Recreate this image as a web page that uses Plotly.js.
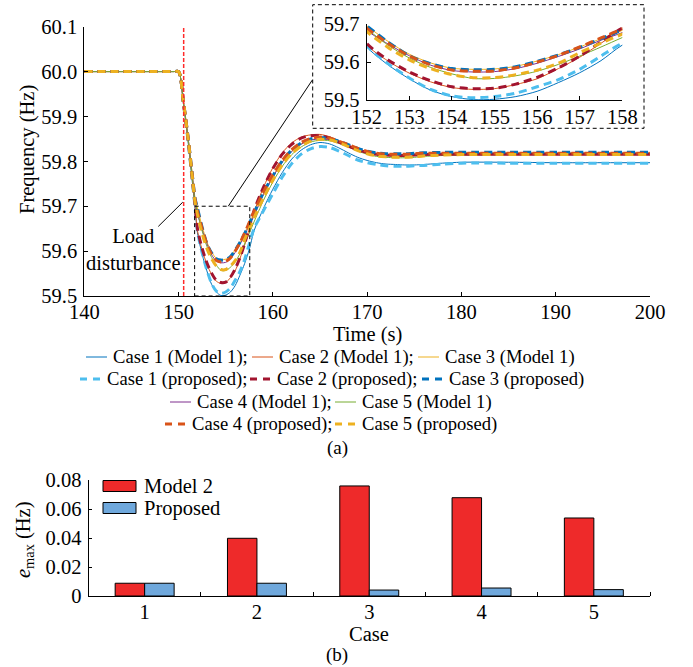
<!DOCTYPE html>
<html><head><meta charset="utf-8">
<script src="https://cdn.plot.ly/plotly-3.0.1.min.js"></script>
<style>html,body{margin:0;padding:0;background:#fff}</style>
</head><body><div id="chart" style="width:693px;height:667px"></div>
<script>
// ---------- data ----------
const time = [140, 149.5, 150, 150.5, 151, 151.5, 151.75, 152, 152.5, 153, 153.5, 154, 154.5, 155, 155.5, 156, 156.5, 157, 157.5, 158, 159, 160, 161, 162, 163, 164, 165, 166, 167, 168, 169, 170, 171, 172, 173, 174, 175, 176, 178, 180, 185, 190, 195, 200];

const case1Model1 = [60.000, 60.000, 60.000, 59.930, 59.845, 59.745, 59.694, 59.641, 59.593, 59.556, 59.526, 59.509, 59.501, 59.502, 59.509, 59.523, 59.546, 59.572, 59.604, 59.645, 59.695, 59.738, 59.775, 59.805, 59.825, 59.837, 59.842, 59.839, 59.830, 59.819, 59.809, 59.802, 59.797, 59.794, 59.793, 59.792, 59.792, 59.793, 59.796, 59.798, 59.798, 59.797, 59.797, 59.797];
const case1Proposed = [60.000, 60.000, 60.000, 59.930, 59.846, 59.747, 59.697, 59.644, 59.596, 59.558, 59.528, 59.511, 59.506, 59.509, 59.518, 59.535, 59.554, 59.581, 59.616, 59.650, 59.690, 59.728, 59.765, 59.795, 59.816, 59.828, 59.833, 59.831, 59.823, 59.813, 59.803, 59.797, 59.793, 59.790, 59.789, 59.789, 59.790, 59.791, 59.794, 59.796, 59.796, 59.796, 59.796, 59.796];
const case2Model1 = [60.000, 60.000, 60.000, 59.932, 59.850, 59.750, 59.700, 59.646, 59.603, 59.571, 59.548, 59.533, 59.528, 59.530, 59.541, 59.556, 59.583, 59.613, 59.650, 59.686, 59.742, 59.786, 59.819, 59.841, 59.854, 59.859, 59.860, 59.855, 59.846, 59.836, 59.827, 59.821, 59.817, 59.815, 59.814, 59.814, 59.815, 59.816, 59.817, 59.817, 59.817, 59.817, 59.817, 59.817];
const case2Proposed = [60.000, 60.000, 60.000, 59.932, 59.850, 59.751, 59.702, 59.650, 59.606, 59.574, 59.551, 59.535, 59.530, 59.531, 59.542, 59.560, 59.585, 59.616, 59.653, 59.690, 59.742, 59.784, 59.816, 59.838, 59.852, 59.857, 59.857, 59.852, 59.843, 59.834, 59.826, 59.820, 59.816, 59.814, 59.813, 59.813, 59.814, 59.815, 59.816, 59.816, 59.816, 59.816, 59.816, 59.816];
const case3Model1 = [60.000, 60.000, 60.000, 59.935, 59.855, 59.762, 59.718, 59.696, 59.655, 59.621, 59.598, 59.584, 59.581, 59.582, 59.589, 59.603, 59.620, 59.640, 59.662, 59.684, 59.728, 59.766, 59.799, 59.823, 59.839, 59.848, 59.851, 59.849, 59.843, 59.835, 59.827, 59.821, 59.817, 59.815, 59.815, 59.815, 59.816, 59.817, 59.818, 59.819, 59.819, 59.819, 59.819, 59.819];
const case3Proposed = [60.000, 60.000, 60.000, 59.935, 59.855, 59.762, 59.718, 59.696, 59.653, 59.617, 59.596, 59.583, 59.580, 59.581, 59.588, 59.602, 59.619, 59.639, 59.662, 59.685, 59.730, 59.768, 59.801, 59.825, 59.841, 59.850, 59.853, 59.851, 59.845, 59.837, 59.829, 59.823, 59.819, 59.817, 59.817, 59.817, 59.818, 59.819, 59.820, 59.820, 59.820, 59.820, 59.820, 59.820];
const case4Model1 = [60.000, 60.000, 60.000, 59.935, 59.854, 59.760, 59.714, 59.684, 59.648, 59.617, 59.592, 59.578, 59.574, 59.575, 59.583, 59.597, 59.615, 59.635, 59.658, 59.678, 59.726, 59.765, 59.798, 59.822, 59.838, 59.847, 59.850, 59.848, 59.842, 59.834, 59.826, 59.820, 59.816, 59.814, 59.814, 59.814, 59.815, 59.816, 59.817, 59.818, 59.818, 59.818, 59.818, 59.818];
const case4Proposed = [60.000, 60.000, 60.000, 59.935, 59.854, 59.760, 59.715, 59.690, 59.650, 59.616, 59.593, 59.579, 59.576, 59.577, 59.585, 59.600, 59.618, 59.640, 59.664, 59.688, 59.732, 59.770, 59.802, 59.826, 59.842, 59.851, 59.854, 59.852, 59.845, 59.837, 59.829, 59.822, 59.818, 59.816, 59.816, 59.816, 59.817, 59.818, 59.818, 59.818, 59.818, 59.818, 59.818, 59.818];
const case5Model1 = [60.000, 60.000, 60.000, 59.934, 59.852, 59.756, 59.710, 59.688, 59.645, 59.611, 59.586, 59.569, 59.557, 59.557, 59.564, 59.576, 59.594, 59.616, 59.640, 59.665, 59.713, 59.754, 59.789, 59.815, 59.832, 59.843, 59.847, 59.846, 59.840, 59.832, 59.823, 59.816, 59.811, 59.809, 59.808, 59.808, 59.809, 59.811, 59.813, 59.814, 59.815, 59.815, 59.815, 59.815];
const case5Proposed = [60.000, 60.000, 60.000, 59.934, 59.852, 59.755, 59.708, 59.681, 59.639, 59.606, 59.583, 59.567, 59.559, 59.559, 59.567, 59.579, 59.597, 59.625, 59.650, 59.674, 59.718, 59.758, 59.792, 59.817, 59.834, 59.845, 59.849, 59.848, 59.842, 59.833, 59.824, 59.817, 59.812, 59.810, 59.809, 59.809, 59.810, 59.812, 59.814, 59.815, 59.815, 59.815, 59.815, 59.815];

const seriesNames = ['Case 1 (Model 1)', 'Case 2 (Model 1)', 'Case 3 (Model 1)', 'Case 4 (Model 1)', 'Case 5 (Model 1)',
                     'Case 1 (proposed)', 'Case 2 (proposed)', 'Case 3 (proposed)', 'Case 4 (proposed)', 'Case 5 (proposed)'];

const freqTicks = [59.5, 59.6, 59.7, 59.8, 59.9, 60.0, 60.1];
const timeTicks = [140, 150, 160, 170, 180, 190, 200];
const insetTimeTicks = [152, 153, 154, 155, 156, 157, 158];
const insetFreqTicks = [59.5, 59.6, 59.7];
const disturbanceTime = 150.54;

const cases = [1, 2, 3, 4, 5];
const caseLabels = ['1', '2', '3', '4', '5'];
const emaxModel2 = [0.0088, 0.0398, 0.0759, 0.0678, 0.0538];
const emaxProposed = [0.0088, 0.0088, 0.0041, 0.0055, 0.0044];
const barNames = ['Model 2', 'Proposed'];
const emaxTicks = [0, 0.02, 0.04, 0.06, 0.08];
const emaxTickText = ['0', '0.02', '0.04', '0.06', '0.08'];

// ---------- styling ----------
const W = 693, H = 667;
const px = x => x / W;
const py = y => 1 - y / H;
const FONT = 'Liberation Serif';
const tf = () => ({family: FONT, size: 20.5, color: '#000'});

const lineSeries = [
  {y: case1Model1, name: seriesNames[0], color: '#0072BD', dashed: false},
  {y: case2Model1, name: seriesNames[1], color: '#D95319', dashed: false},
  {y: case3Model1, name: seriesNames[2], color: '#EDB120', dashed: false},
  {y: case4Model1, name: seriesNames[3], color: '#7E2F8E', dashed: false},
  {y: case5Model1, name: seriesNames[4], color: '#77AC30', dashed: false},
  {y: case1Proposed, name: seriesNames[5], color: '#4DBEEE', dashed: true},
  {y: case2Proposed, name: seriesNames[6], color: '#A2142F', dashed: true},
  {y: case3Proposed, name: seriesNames[7], color: '#0072BD', dashed: true},
  {y: case4Proposed, name: seriesNames[8], color: '#D95319', dashed: true},
  {y: case5Proposed, name: seriesNames[9], color: '#EDB120', dashed: true}
];

const traces = [];
['', '2'].forEach(ax => {
  lineSeries.forEach(s => {
    traces.push({
      type: 'scatter', mode: 'lines', x: time, y: s.y, name: s.name,
      xaxis: 'x' + ax, yaxis: 'y' + ax, showlegend: false, hoverinfo: 'skip',
      line: {color: s.color, width: s.dashed ? 3 : 1, dash: s.dashed ? '8px,5px' : 'solid', shape: 'spline', smoothing: 0.8}
    });
  });
});

const barColors = ['#EE2A2A', '#6FA8DC'];
[emaxModel2, emaxProposed].forEach((vals, i) => {
  traces.push({
    type: 'bar', x: cases, y: vals, name: barNames[i], xaxis: 'x3', yaxis: 'y3',
    showlegend: false, hoverinfo: 'skip',
    marker: {color: barColors[i], line: {color: '#000', width: 1}}
  });
});

const axisBase = () => ({
  showline: true, linecolor: '#000', linewidth: 1, mirror: false,
  ticks: 'inside', ticklen: 4, tickcolor: '#000', tickwidth: 1,
  showgrid: false, zeroline: false, tickfont: tf()
});

// ---------- manual legends ----------
const shapes = [];
const annotations = [];

const legendRows = [
  {y: 357, items: [[0, 86, ';'], [1, 252, ';'], [2, 418, '']]},
  {y: 379, items: [[5, 80, ';'], [6, 250, ';'], [7, 422, '']]},
  {y: 402, items: [[3, 170, ';'], [4, 335, '']]},
  {y: 424, items: [[8, 165, ';'], [9, 335, '']]}
];
legendRows.forEach(row => {
  row.items.forEach(([idx, x0, sep]) => {
    const s = lineSeries[idx];
    shapes.push({type: 'line', xref: 'paper', yref: 'paper', x0: px(x0), x1: px(x0 + 21), y0: py(row.y), y1: py(row.y),
      line: {color: s.color, width: s.dashed ? 3 : 1, dash: s.dashed ? '7px,6px' : 'solid'}});
    annotations.push({xref: 'paper', yref: 'paper', x: px(x0 + 25), y: py(row.y), xanchor: 'left', yanchor: 'middle',
      text: s.name + sep, showarrow: false, font: {family: FONT, size: 18.6, color: '#000'}});
  });
});

// bar legend
[[0, 486], [1, 508]].forEach(([i, yc]) => {
  shapes.push({type: 'rect', xref: 'paper', yref: 'paper', x0: px(103), x1: px(136), y0: py(yc - 5.5), y1: py(yc + 5.5),
    fillcolor: barColors[i], line: {color: '#000', width: 1}});
  annotations.push({xref: 'paper', yref: 'paper', x: px(142), y: py(yc), xanchor: 'left', yanchor: 'middle',
    text: barNames[i], showarrow: false, font: {family: FONT, size: 20.5, color: '#000'}});
});

// inset frame, zoom box, connectors, disturbance marker
shapes.push({type: 'rect', xref: 'paper', yref: 'paper', x0: px(312.7), x1: px(644), y0: py(128.3), y1: py(4.7),
  line: {color: '#000', width: 1, dash: '4px,3px'}, fillcolor: 'rgba(0,0,0,0)'});
shapes.push({type: 'rect', xref: 'x', yref: 'y', x0: 151.7, x1: 157.55, y0: 59.5, y1: 59.70,
  line: {color: '#000', width: 1, dash: '4px,3px'}});
shapes.push({type: 'line', xref: 'x', yref: 'y', x0: 155.27, y0: 59.70, x1: 164.18, y1: 59.981,
  line: {color: '#000', width: 1}});
shapes.push({type: 'line', xref: 'x', yref: 'y', x0: disturbanceTime, x1: disturbanceTime, y0: 59.5, y1: 60.097,
  line: {color: '#FF2A2A', width: 1.5, dash: '4px,2px'}});
shapes.push({type: 'line', xref: 'x', yref: 'y', x0: 147.85, y0: 59.655, x1: disturbanceTime - 0.1, y1: 59.709,
  line: {color: '#000', width: 1}});

const textAnn = (x, y, text, size, extra) => Object.assign({xref: 'paper', yref: 'paper', x: px(x), y: py(y),
  xanchor: 'center', yanchor: 'middle', text, showarrow: false, font: {family: FONT, size: size || 20.5, color: '#000'}}, extra || {});

annotations.push(textAnn(27, 150, 'Frequency (Hz)', 20.5, {textangle: -90}));
annotations.push(textAnn(367, 334, 'Time (s)'));
annotations.push(textAnn(133.5, 249.5, 'Load<br>disturbance', 20.5));
annotations.push(textAnn(337, 448, '(a)', 19));
annotations.push(textAnn(24, 540, '<i>e</i><sub>max</sub> (Hz)', 20.5, {textangle: -90}));
annotations.push(textAnn(369, 634, 'Case'));
annotations.push(textAnn(337, 655, '(b)', 19));

const layout = {
  width: W, height: H, margin: {l: 0, r: 0, t: 0, b: 0},
  font: {family: FONT, size: 20.5, color: '#000'},
  paper_bgcolor: '#fff', plot_bgcolor: 'rgba(0,0,0,0)', showlegend: false,
  barmode: 'group', bargap: 0.475, bargroupgap: 0,
  xaxis: Object.assign(axisBase(), {domain: [px(84.3), px(650)], range: [140, 200], tickvals: timeTicks, anchor: 'y', ticklabelstandoff: -3}),
  yaxis: Object.assign(axisBase(), {domain: [py(296), py(26.7)], range: [59.5, 60.1], tickvals: freqTicks, tickformat: '.1f', anchor: 'x', ticklabelstandoff: 2}),
  xaxis2: Object.assign(axisBase(), {domain: [px(366.7), px(622.3)], range: [152, 158], tickvals: insetTimeTicks, anchor: 'y2', ticklabelstandoff: -2}),
  yaxis2: Object.assign(axisBase(), {domain: [py(100), py(24.3)], range: [59.5, 59.7], tickvals: insetFreqTicks, tickformat: '.1f', anchor: 'x2', ticklabelstandoff: 2}),
  xaxis3: Object.assign(axisBase(), {domain: [px(88.5), px(650)], range: [0.5, 5.5], tickvals: cases, ticktext: caseLabels, ticks: '', anchor: 'y3', ticklabelstandoff: -3,
    minor: {tickmode: 'array', tickvals: [1.5, 2.5, 3.5, 4.5, 5.5], ticks: 'inside', ticklen: 4, tickcolor: '#000'}}),
  yaxis3: Object.assign(axisBase(), {domain: [py(596), py(480)], range: [0, 0.08], tickvals: emaxTicks, ticktext: emaxTickText, anchor: 'x3', ticklen: 3, ticklabelstandoff: 2}),
  shapes, annotations
};

Plotly.newPlot('chart', traces, layout, {staticPlot: true, displayModeBar: false});
</script></body></html>
